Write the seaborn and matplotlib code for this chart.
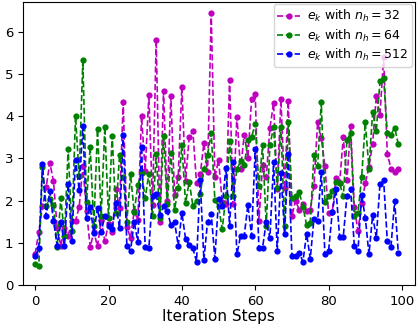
import numpy as np
import pandas as pd
import matplotlib
matplotlib.use('Agg')
import matplotlib.pyplot as plt
import seaborn as sns

# error per iteration
err_nh32 = [0.74, 1.26, 1.87, 2.32, 2.9, 2.46, 1.36, 0.94, 1.36, 1.17,
            1.52, 1.52, 1.85, 2.81, 1.76, 0.9, 1.26, 0.92, 1.55, 1.05,
            1.45, 1.26, 2.27, 1.83, 4.33, 1.38, 1.12, 1.75, 1.55, 4.0,
            2.7, 4.5, 1.9, 5.81, 1.5, 4.6, 2.0, 4.47, 2.13, 2.57,
            4.69, 2.47, 3.5, 3.64, 2.41, 2.62, 3.36, 2.67, 6.44, 2.55,
            2.97, 1.97, 1.92, 4.85, 1.92, 3.99, 2.74, 3.56, 3.02, 4.4,
            4.52, 1.52, 2.84, 2.55, 3.72, 4.31, 2.27, 4.4, 2.29, 4.36,
            1.64, 2.0, 1.78, 1.93, 1.76, 1.78, 2.35, 3.85, 3.48, 2.81,
            1.7, 1.73, 2.53, 2.41, 3.5, 2.48, 3.77, 1.85, 1.29, 1.94,
            2.41, 2.8, 3.35, 4.47, 4.03, 5.39, 3.11, 2.76, 2.69, 2.76]
err_nh64 = [0.5, 0.45, 2.8, 1.87, 2.04, 1.9, 0.9, 2.06, 1.17, 3.23,
            1.29, 4.0, 2.58, 5.32, 1.97, 3.28, 1.41, 3.69, 1.64, 3.75,
            1.6, 3.54, 1.7, 3.07, 2.55, 1.5, 2.62, 1.73, 2.38, 2.66,
            2.06, 2.64, 1.63, 3.1, 1.6, 3.54, 1.91, 3.13, 1.79, 2.29,
            3.31, 1.94, 2.45, 1.88, 1.99, 2.15, 2.74, 3.09, 3.6, 2.01,
            1.87, 1.33, 2.1, 3.4, 2.1, 2.74, 2.93, 2.84, 3.44, 3.5,
            3.82, 2.34, 3.31, 1.41, 3.31, 3.74, 2.3, 3.74, 1.4, 3.85,
            2.06, 2.1, 2.2, 1.85, 1.43, 1.48, 3.09, 2.81, 4.33, 1.97,
            2.11, 2.22, 2.45, 2.41, 2.1, 3.44, 3.6, 1.64, 1.7, 2.55,
            3.85, 2.76, 4.1, 3.64, 4.83, 4.9, 3.6, 3.56, 3.73, 3.34]
err_nh512 = [0.68, 0.87, 2.86, 1.64, 2.22, 1.52, 0.94, 1.5, 0.94, 2.39,
             1.05, 2.97, 2.25, 3.77, 1.6, 1.85, 1.24, 1.83, 1.26, 1.64,
             1.41, 1.33, 1.94, 1.36, 3.56, 0.94, 0.82, 1.5, 1.03, 3.28,
             0.9, 0.88, 2.1, 2.15, 1.66, 1.87, 1.76, 1.43, 1.5, 0.94,
             1.71, 1.1, 0.96, 0.87, 0.56, 2.5, 0.6, 1.5, 1.69, 0.63,
             2.04, 1.87, 2.78, 1.41, 2.91, 0.73, 1.17, 1.17, 1.9, 1.17,
             3.22, 0.89, 0.89, 1.5, 1.12, 2.91, 0.82, 2.65, 1.22, 3.11,
             0.68, 0.68, 0.77, 0.56, 1.22, 0.63, 1.57, 1.52, 2.67, 0.73,
             0.82, 1.73, 2.27, 1.15, 1.15, 2.11, 2.27, 0.94, 0.8, 2.13,
             1.6, 0.73, 1.66, 1.12, 2.39, 2.48, 1.05, 0.91, 1.99, 0.77]

steps = np.arange(len(err_nh32))
series = [(err_nh32, 'm', r'$e_k$ with $n_h=32$'),
          (err_nh64, 'g', r'$e_k$ with $n_h=64$'),
          (err_nh512, 'b', r'$e_k$ with $n_h=512$')]

fig, ax = plt.subplots(figsize=(4.19, 3.26), dpi=100)
for vals, col, lab in series:
    df = pd.DataFrame({'step': steps, 'err': vals})
    sns.lineplot(data=df, x='step', y='err', ax=ax, color=col, label=lab,
                 linestyle='--', marker='o', markersize=4.5, markeredgewidth=0,
                 linewidth=1.2)

ax.set_xlim(-3.3, 103.5)
ax.set_ylim(0, 6.7)
ax.set_xlabel('Iteration Steps', fontsize=11, labelpad=1)
ax.set_ylabel('')
ax.tick_params(labelsize=9.5)
ax.legend(loc='upper right', fontsize=9, handlelength=1.8, borderpad=0.3,
          labelspacing=0.25, borderaxespad=0.2, handletextpad=0.6)
fig.subplots_adjust(left=0.055, right=0.99, top=0.994, bottom=0.125)
fig.savefig('out.png')
